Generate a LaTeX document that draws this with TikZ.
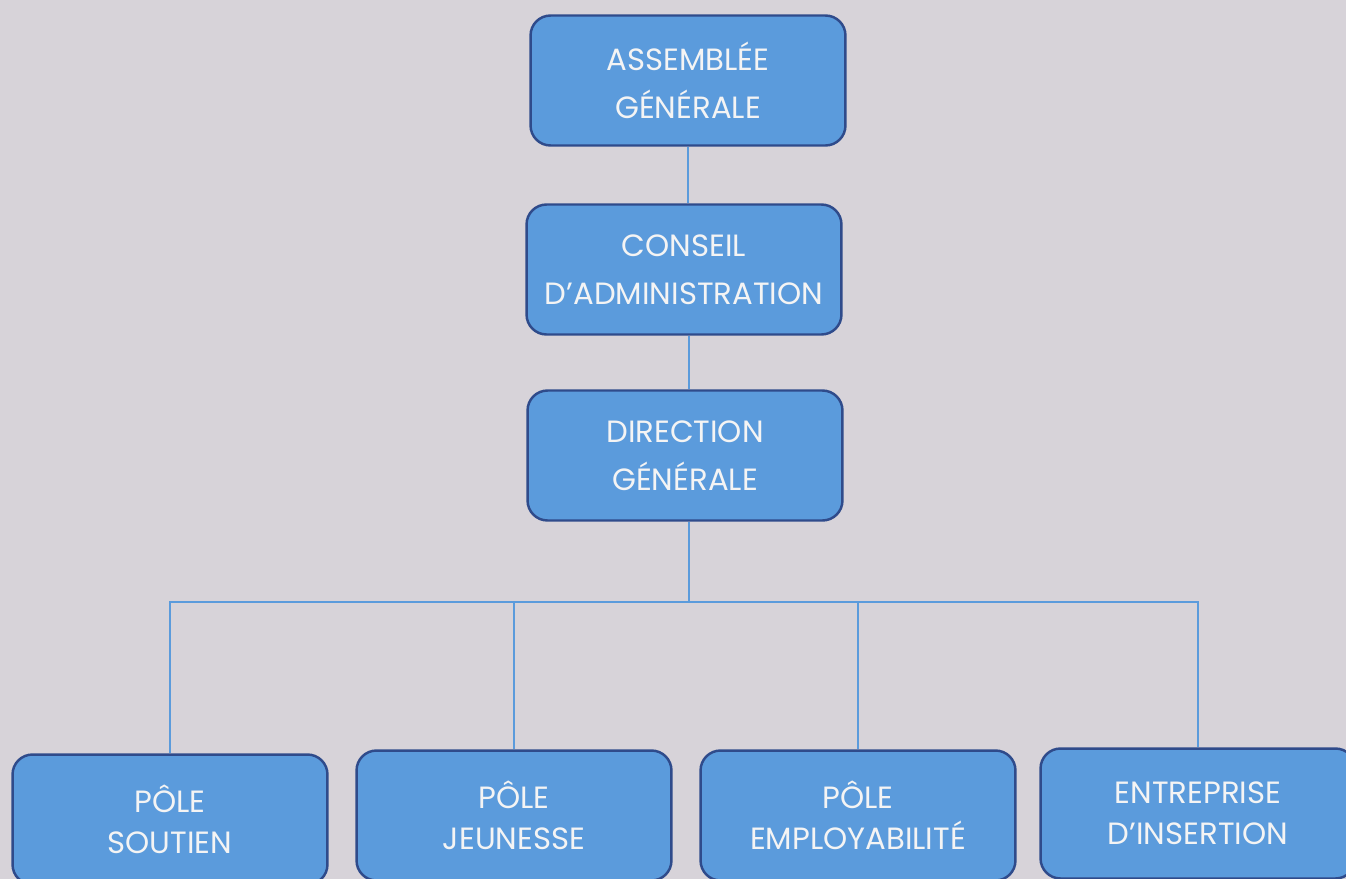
\documentclass[tikz,border=0pt]{standalone}
\usepackage{fontspec}
\setmainfont{Poppins}
\definecolor{bgcol}{HTML}{D7D3D9}
\definecolor{boxfill}{HTML}{5B9BDC}
\definecolor{boxline}{HTML}{2F4B8B}
\definecolor{linkcol}{HTML}{5B9BDC}
\definecolor{labelcol}{HTML}{F4F4F4}
\tikzset{
  orgbox/.style={draw=boxline, fill=boxfill, line width=1.4pt, rounded corners=0.4cm,
    minimum width=6.3cm, minimum height=2.6cm, align=center, text=labelcol,
    font=\fontsize{17.5}{27.5}\selectfont},
  polebox/.style={orgbox, font=\fontsize{17.5}{23.5}\selectfont},
  link/.style={draw=linkcol, line width=0.6pt},
}

\begin{document}
\begin{tikzpicture}[x=0.02cm, y=-0.02cm]
  \fill[bgcol] (0,0) rectangle (1346,879);
  \useasboundingbox (0,0) rectangle (1346,879);
  \clip (0,0) rectangle (1346,879);

  \node[orgbox] (ag) at (688,80.5) {ASSEMBLÉE\\GÉNÉRALE};
  \node[orgbox] (ca) at (684,269.5) {CONSEIL\\D’ADMINISTRATION};
  \node[orgbox] (dg) at (685,455.5) {DIRECTION\\GÉNÉRALE};

  \node[polebox] (ps) at (170,819.5) {PÔLE\\SOUTIEN};
  \node[polebox] (pj) at (514,815.5) {PÔLE\\JEUNESSE};
  \node[polebox] (pe) at (858,815.5) {PÔLE\\EMPLOYABILITÉ};
  \node[polebox] (ei) at (1198,813.5) {ENTREPRISE\\D’INSERTION};

  \coordinate (bus) at (689,602);

  \draw[link] (ag.south) -- (ag.south |- ca.north);
  \draw[link] (ca.south -| bus) -- (dg.north -| bus);
  \draw[link] (dg.south -| bus) -- (bus);
  \foreach \p in {ps,pj,pe,ei}
    \draw[link] (bus) -| (\p.north);
\end{tikzpicture}
\end{document}
